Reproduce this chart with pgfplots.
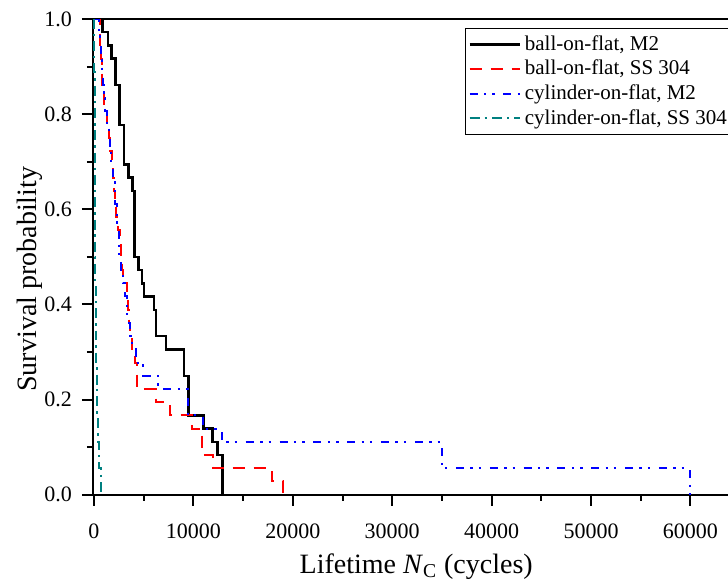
\documentclass[border=0pt]{standalone}
\usepackage{pgfplots}
\pgfplotsset{compat=1.18}
\usepackage{fontspec}
\setmainfont{Liberation Serif}
\definecolor{tealc}{RGB}{0,128,128}
\begin{document}
\begin{tikzpicture}
\begin{axis}[
  scale only axis, width=317.5pt, height=237.85pt,
  xmin=-100.6, xmax=63780, ymin=0, ymax=1,
  axis x line*=box, axis y line*=left,
  axis line style={line width=1pt},
  xtick={0,10000,20000,30000,40000,50000,60000},
  ytick={0,0.2,0.4,0.6,0.8,1.0},
  minor x tick num=1, minor y tick num=1,
  tick align=outside, tick pos=left,
  major tick length=5.5pt, minor tick length=3pt,
  every tick/.style={black, line width=1pt},
  /pgf/number format/assume math mode=true,
  scaled ticks=false,
  xticklabel style={/pgf/number format/1000 sep={}, font=\fontsize{11}{13}\selectfont, yshift=-5.5pt},
  yticklabel style={/pgf/number format/fixed, /pgf/number format/fixed zerofill, /pgf/number format/precision=1, font=\fontsize{11}{13}\selectfont, xshift=-1.5pt},
  xlabel={Lifetime \textit{N}\textsubscript{C} (cycles)},
  ylabel={Survival probability},
  xlabel style={font=\fontsize{14}{16}\selectfont, at={(axis description cs:0.509,-0.1646)}, anchor=base},
  ylabel style={font=\fontsize{14}{16}\selectfont, at={(axis description cs:-0.0992,0.453)}, anchor=center},
  legend style={at={(axis description cs:0.5858,0.981)}, anchor=north west, draw=black, line width=0.5pt,
    font=\fontsize{10.5}{12}\selectfont, inner xsep=1.5pt, inner ysep=1.5pt, row sep=-0.6pt, cells={anchor=west}},
  legend image code/.code={\draw[#1] (0pt,0pt) -- (25pt,0pt);},
  legend cell align=left,
]
\addplot[const plot, black, line width=1.2pt] coordinates {
(0,1) (855,0.9722) (1408,0.9444) (1760,0.9167) (2163,0.8611) (2565,0.7778)
(2998,0.6944) (3471,0.6667) (3873,0.6389) (4074,0.5) (4477,0.4722) (4829,0.4444)
(5030,0.4167) (6036,0.3889) (6237,0.3333) (7243,0.3056) (9054,0.25) (9487,0.1667)
(10996,0.1389) (11941,0.1111) (12444,0.0833) (12947,0)
};
\addlegendentry{ball-on-flat, M2}
\addplot[const plot, red, line width=1pt, dash pattern=on 6pt off 4.5pt] coordinates {
(0,1) (573,0.9722) (654,0.9444) (734,0.9167) (785,0.8889) (835,0.8611) (956,0.8333)
(1056,0.8056) (1258,0.7778) (1459,0.75) (1610,0.7222) (1761,0.6944) (1911,0.6667)
(2012,0.6389) (2092,0.6111) (2243,0.5833) (2414,0.5556) (2585,0.5278) (2716,0.5)
(2847,0.4722) (2948,0.4444) (3320,0.4167) (3450,0.3889) (3551,0.3611) (3622,0.3333)
(3793,0.3056) (4125,0.2778) (4356,0.2222) (6187,0.1944) (7646,0.1667) (9859,0.1389)
(10915,0.0833) (12002,0.0556) (17907,0.0278) (19013,0)
};
\addlegendentry{ball-on-flat, SS 304}
\addplot[const plot, blue, line width=1pt, dash pattern=on 4pt off 3.2pt on 1.2pt off 3pt on 1.2pt off 4.3pt] coordinates {
(0,1) (453,0.9722) (634,0.9444) (704,0.9167) (805,0.8889) (905,0.8611) (956,0.8333)
(1157,0.8056) (1278,0.7778) (1459,0.75) (1579,0.7222) (1710,0.6944) (1911,0.6667)
(2113,0.6389) (2163,0.6111) (2264,0.5833) (2364,0.5556) (2465,0.5278) (2565,0.5)
(2716,0.4722) (2917,0.4444) (3119,0.4167) (3290,0.3889) (3320,0.3611) (3622,0.3333)
(3823,0.3056) (4225,0.2778) (4960,0.25) (6469,0.2222) (9456,0.1667) (10996,0.1389)
(12847,0.1111) (35000,0.0556) (60000,0)
};
\addlegendentry{cylinder-on-flat, M2}
\addplot[const plot, tealc, line width=1pt, dash pattern=on 5pt off 2.5pt on 1.2pt off 2.5pt] coordinates {
(0,1) (20,0.9444) (40,0.8889) (60,0.8333) (70,0.7778) (80,0.7222) (90,0.6667)
(100,0.6111) (110,0.5556) (130,0.5) (150,0.4444) (180,0.3889) (210,0.3333)
(250,0.2778) (290,0.2222) (340,0.1667) (400,0.1111) (480,0.0556) (720,0)
};
\addlegendentry{cylinder-on-flat, SS 304}
\end{axis}
\pgfresetboundingbox
\useasboundingbox (-46.5pt,-45.15pt) rectangle (317.5pt,247.35pt);
\end{tikzpicture}
\end{document}
